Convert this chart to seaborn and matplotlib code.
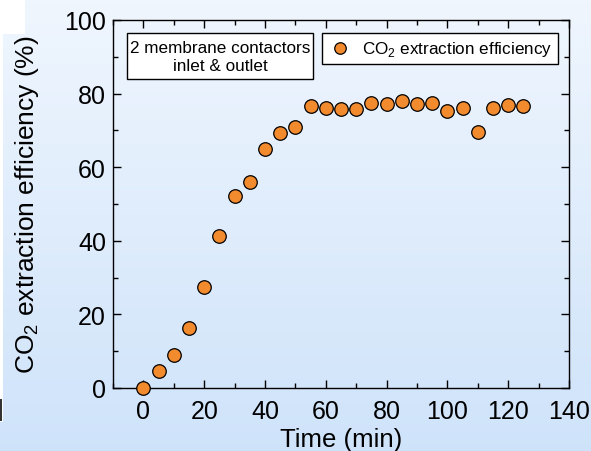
import numpy as np
import pandas as pd
import matplotlib
matplotlib.use("Agg")
import matplotlib.pyplot as plt
import seaborn as sns
from matplotlib.patches import Rectangle

# data
time_min = [0, 5, 10, 15, 20, 25, 30, 35, 40, 45, 50, 55, 60, 65, 70,
            75, 80, 85, 90, 95, 100, 105, 110, 115, 120, 125]
efficiency = [0.0, 4.6, 9.0, 16.2, 27.4, 41.3, 52.1, 56.1, 64.9, 69.3, 71.0,
              76.6, 76.0, 75.9, 75.8, 77.4, 77.3, 78.0, 77.1, 77.4, 75.4,
              76.0, 69.6, 76.2, 76.9, 76.6]
x_ticks = [0, 20, 40, 60, 80, 100, 120, 140]
y_ticks = [0, 20, 40, 60, 80, 100]

df = pd.DataFrame({"Time (min)": time_min, "eff": efficiency})

sns.set_style("ticks")
plt.rcParams["font.family"] = ["Liberation Sans", "DejaVu Sans"]
plt.rcParams["mathtext.fontset"] = "custom"
plt.rcParams["mathtext.rm"] = "Liberation Sans"
plt.rcParams["text.color"] = "black"
plt.rcParams["axes.labelcolor"] = "black"
plt.rcParams["xtick.color"] = "black"
plt.rcParams["ytick.color"] = "black"

fig = plt.figure(figsize=(5.91, 4.52), dpi=100)

# light blue gradient behind everything
bg = fig.add_axes([0, 0, 1, 1], zorder=-10)
grad = np.linspace(0, 1, 256).reshape(-1, 1)
top = np.array([0.94, 0.965, 0.996])
bot = np.array([0.81, 0.89, 0.98])
img = top + (bot - top) * grad[:, :, None]
bg.imshow(img, aspect="auto", extent=[0, 1, 0, 1], origin="upper")
bg.set_axis_off()
# white scraps at the left edge of the original picture
bg.add_patch(Rectangle((0, 1 - 35 / 452), 25 / 591, 35 / 452,
                       facecolor="white", edgecolor="none"))
bg.add_patch(Rectangle((0, 1 - 423 / 452), 3 / 591, 388 / 452,
                       facecolor="white", edgecolor="none"))
bg.add_patch(Rectangle((0, 1 - 422 / 452), 2 / 591, 22 / 452,
                       facecolor="#333333", edgecolor="none"))

ax = fig.add_axes([113 / 591, 1 - 389 / 452, 456 / 591, 368 / 452])
ax.set_facecolor("none")

sns.scatterplot(data=df, x="Time (min)", y="eff", ax=ax,
                color="#F28A2E", edgecolor="black", linewidth=0.9,
                s=95, label=r"CO$_2$ extraction efficiency", zorder=3,
                clip_on=False)

ax.set_xlim(-10, 140)
ax.set_ylim(0, 100)
ax.set_xticks(x_ticks)
ax.set_yticks(y_ticks)
ax.set_xticks(np.arange(-10, 141, 10), minor=True)
ax.set_yticks(np.arange(0, 101, 10), minor=True)
ax.tick_params(which="both", direction="in", top=True, right=True,
               labeltop=False, labelright=False, width=1.0, color="black")
ax.tick_params(which="major", length=6, labelsize=18, pad=5)
ax.tick_params(axis="x", which="major", pad=8)
ax.tick_params(which="minor", length=3.5)
for sp in ax.spines.values():
    sp.set_visible(True)
    sp.set_color("black")
    sp.set_linewidth(1.0)

ax.set_xlabel("Time (min)", fontsize=18.5, labelpad=3)
ax.set_ylabel(r"CO$_2$ extraction efficiency (%)", fontsize=19, labelpad=17)

leg = ax.legend(loc="upper right", bbox_to_anchor=(0.9758, 0.9647),
                borderaxespad=0, fancybox=False, framealpha=1,
                edgecolor="black", fontsize=12.3, handletextpad=0.6,
                borderpad=0.35, handlelength=1.4, markerscale=0.85)
leg.get_frame().set_linewidth(1.0)

# note box: frame drawn on its own so it can be taller than wide padding
ax.add_patch(Rectangle((0.0307, 0.8397), 0.4079, 0.125,
                       transform=ax.transAxes, facecolor="white",
                       edgecolor="black", linewidth=1.0, zorder=4))
ax.text(0.2346, 0.900, "2 membrane contactors\ninlet & outlet",
        transform=ax.transAxes, ha="center", va="center", fontsize=12.3,
        linespacing=1.25, zorder=5)

fig.savefig("out.png", dpi=100)
